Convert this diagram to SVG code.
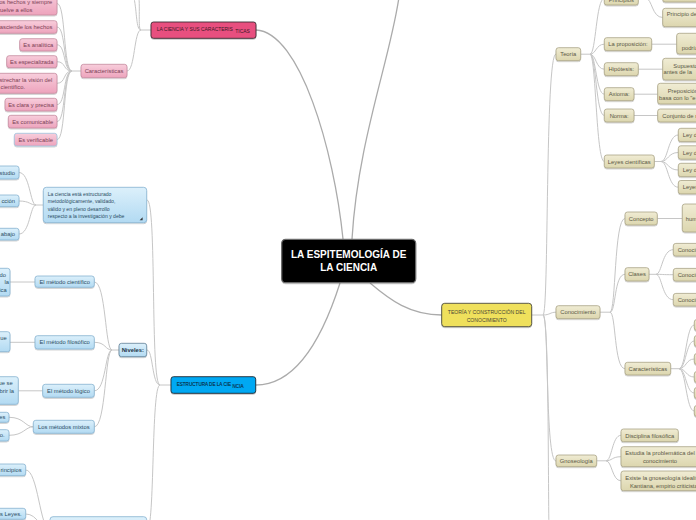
<svg xmlns="http://www.w3.org/2000/svg" width="696" height="520" viewBox="0 0 696 520">
<defs>
<linearGradient id="gP" x1="0" y1="0" x2="0" y2="1"><stop offset="0" stop-color="#f8cedc"/><stop offset="1" stop-color="#eda3bc"/></linearGradient>
<linearGradient id="gB" x1="0" y1="0" x2="0" y2="1"><stop offset="0" stop-color="#dcf0fb"/><stop offset="1" stop-color="#b2daf2"/></linearGradient>
<linearGradient id="gY" x1="0" y1="0" x2="0" y2="1"><stop offset="0" stop-color="#f0ecd4"/><stop offset="1" stop-color="#dcd6ae"/></linearGradient>
<filter id="sh" x="-10%" y="-20%" width="120%" height="160%"><feDropShadow dx="0" dy="1" stdDeviation="0.7" flood-color="#000" flood-opacity="0.22"/></filter>
</defs>
<style>
.c{fill:none;stroke:#c6c6c6;stroke-width:1}
.cm{fill:none;stroke:#ababab;stroke-width:1.3}
rect{filter:url(#sh)}
.np{fill:url(#gP);stroke:#c58b9f;stroke-width:0.8}
.nb{fill:url(#gB);stroke:#86b3d1;stroke-width:0.8}
.ny{fill:url(#gY);stroke:#a9a386;stroke-width:0.8}
text{font-family:"Liberation Sans",Arial,sans-serif;font-size:5.8px}
.tp{fill:#7a3f55}
.tb{fill:#2b4c63}
.ty{fill:#5a5744}
.m{text-anchor:middle}
.e{text-anchor:end}
</style>
<rect width="696" height="520" fill="#ffffff" style="filter:none"/>
<g id="connectors">
<path class="cm" d="M256,30 C300,32 334,150 343,239"/>
<path class="cm" d="M352,239 C358,140 390,60 399,-3"/>
<path class="cm" d="M340,283 C325,330 300,385 256,385"/>
<path class="cm" d="M370,283 C390,300 410,315 441.7,315"/>
<path class="c" d="M151,30 L141,30 M141,30 C134,30 135,71 127,71 M141,30 C136,30 137,12 134,-2 M141,30 C138,30 140,12 139,-2"/>
<path class="c" d="M81,71 L72,71 M72,71 C63,71 66,3.5 57,3.5 M72,71 C63,71 66,27 57,27 M72,71 C63,71 66,44.8 57,44.8 M72,71 C63,71 66,61.7 57,61.7 M72,71 C63,71 66,83.3 57,83.3 M72,71 C63,71 66,104.6 57,104.6 M72,71 C63,71 66,121.6 57,121.6 M72,71 C63,71 66,139.6 57,139.6"/>
<path class="c" d="M171,385 L160,385 M160,385 C150,385 157,200 147,200 M160,385 C152,385 153,350 147,350 M160,385 C151,385 155,530 147,530"/>
<path class="c" d="M43.3,205 L36,205 M36,205 C30,205 30,172.5 19,172.5 M36,205 C30,205 30,201 19,201 M36,205 C30,205 30,234 19,234"/>
<path class="c" d="M119,350 L112,350 M112,350 C105,350 106,282 94.3,282 M112,350 C105,350 106,342.3 94.3,342.3 M112,350 C105,350 106,390.8 94.3,390.8 M112,350 C105,350 106,426.8 94.3,426.8"/>
<path class="c" d="M35,282 L10,282 M35,342.3 L10,342.3 M42.7,390.8 L18.3,390.8 M33.3,426.8 C25,426.8 24,417.3 9,417.3 M33.3,426.8 C25,426.8 24,435.3 9,435.3"/>
<path class="c" d="M50,530 C40,530 38,470 25.7,470 M50,530 C40,530 38,514 25.7,514"/>
<path class="c" d="M531.7,315 L543,315 M543,315 C549,315 545,54 556,54 M543,315 C550,315 550,312.2 556,312.2 M543,315 C549,315 545,461 556,461 M543,315 C549,315 548,480 549,530"/>
<path class="c" d="M580.7,54.2 L590,54.2 M590,54.2 C596,54.2 596,-1.5 604.3,-1.5 M590,54.2 C596,54.2 596,44.2 604.3,44.2 M590,54.2 C596,54.2 596,69.2 604.3,69.2 M590,54.2 C596,54.2 596,94.2 604.3,94.2 M590,54.2 C596,54.2 596,115.5 604.3,115.5 M590,54.2 C596,54.2 596,161.5 604.3,161.5"/>
<path class="c" d="M638.3,-1.5 L646,-1.5 M646,-1.5 C652,-1.5 652,17.5 662.7,17.5 M646,-1.5 C652,-1.5 652,-6 662.7,-6"/>
<path class="c" d="M651.7,44.2 L676.7,44.2 M638.3,69.2 L662.7,69.2 M634,94.2 L657.7,94.2 M634,115.5 L657.7,115.5"/>
<path class="c" d="M654.3,161.5 L661,161.5 M661,161.5 C668,161.5 668,135 678.3,135 M661,161.5 C668,161.5 668,152.5 678.3,152.5 M661,161.5 C668,161.5 668,170 678.3,170 M661,161.5 C668,161.5 668,187.2 678.3,187.2"/>
<path class="c" d="M600,312.2 L610,312.2 M610,312.2 C616,312.2 614,218.5 625,218.5 M610,312.2 C616,312.2 614,274.3 625,274.3 M610,312.2 C616,312.2 614,368.7 625,368.7"/>
<path class="c" d="M657.3,218.5 L682.3,218.5 M649,274.3 L656,274.3 M656,274.3 C662,274.3 662,249.7 673.3,249.7 M656,274.3 C662,274.3 662,274.7 673.3,274.7 M656,274.3 C662,274.3 662,299.7 673.3,299.7"/>
<path class="c" d="M670.7,368.7 L679,368.7 M679,368.7 C686,368.7 686,325 694.3,325 M679,368.7 C686,368.7 686,341 694.3,341 M679,368.7 C686,368.7 686,359 694.3,359 M679,368.7 C686,368.7 686,377 694.3,377 M679,368.7 C686,368.7 686,393 694.3,393 M679,368.7 C686,368.7 686,411 694.3,411"/>
<path class="c" d="M596.7,460.8 L606,460.8 M606,460.8 C612,460.8 612,435.3 621,435.3 M606,460.8 C612,460.8 612,456.7 621,456.7 M606,460.8 C612,460.8 612,480.8 621,480.8"/>
</g>
<g id="central"><rect x="281.7" y="239.3" width="134" height="43.4" rx="4" fill="#000" stroke="#6b6b6b" stroke-width="1.2"/>
<text x="348.7" y="257.8" class="m" style="font-size:10px;font-weight:bold;fill:#fff">LA ESPITEMOLOGÍA DE</text>
<text x="348.7" y="271.2" class="m" style="font-size:10px;font-weight:bold;fill:#fff">LA CIENCIA</text></g>
<g id="ciencia-caracteristicas"><rect x="151" y="22" width="105" height="16.3" rx="2.5" fill="#e8507f" stroke="#3b2b31" stroke-width="0.9"/>
<text x="156.7" y="31.2" style="font-size:4.95px;fill:#3a1a25">LA CIENCIA Y SUS CARACTERIS<tspan x="235.3" dy="1.8">TICAS</tspan></text></g>
<g id="caracteristicas"><rect class="np" x="81" y="64.3" width="46" height="13.4" rx="2.5"/><text class="tp m" x="104" y="73">Características</text></g>
<g id="pc1"><rect class="np" x="-60" y="-8" width="117" height="23" rx="2.5"/><text class="tp e" x="52.3" y="4.4">los hechos y siempre</text><text class="tp e" x="32.3" y="12.1">vuelve a ellos</text></g>
<g id="pc2"><rect class="np" x="-60" y="20.7" width="117" height="12.6" rx="2.5"/><text class="tp e" x="52.3" y="29.1">Trasciende los hechos</text></g>
<g id="pc3"><rect class="np" x="19.7" y="38.7" width="37.3" height="12.3" rx="2.5"/><text class="tp m" x="38.3" y="46.9">Es analítica</text></g>
<g id="pc4"><rect class="np" x="6.7" y="55.7" width="50.3" height="12" rx="2.5"/><text class="tp m" x="31.8" y="63.8">Es especializada</text></g>
<g id="pc5"><rect class="np" x="-60" y="73.3" width="117" height="20" rx="2.5"/><text class="tp e" x="52.3" y="82.2">estrechar la visión del</text><text class="tp e" x="25" y="89">científico.</text></g>
<g id="pc6"><rect class="np" x="5" y="98.3" width="52" height="12.7" rx="2.5"/><text class="tp m" x="31" y="106.7">Es clara y precisa</text></g>
<g id="pc7"><rect class="np" x="8.3" y="115.3" width="48.7" height="12.7" rx="2.5"/><text class="tp m" x="32.7" y="123.7">Es comunicable</text></g>
<g id="pc8"><rect class="np" x="14.3" y="133.3" width="42.7" height="12.7" rx="2.5" style="stroke:#9cc4de"/><text class="tp m" x="35.7" y="141.7">Es verificable</text></g>
<g id="estructura"><rect x="171" y="376.7" width="84.7" height="16.6" rx="2.5" fill="#00a8f3" stroke="#1d2b36" stroke-width="0.9"/>
<text x="176.7" y="386.1" style="font-size:4.6px;fill:#0b2a40;stroke:#0b2a40;stroke-width:0.12">ESTRUCTURA DE LA CIE<tspan x="232.5" dy="1.5">NCIA</tspan></text></g>
<g id="ciencia-esta"><rect class="nb" x="43.3" y="187.3" width="103.4" height="35.4" rx="3"/>
<text class="tb" x="47.7" y="195.8" style="font-size:5.1px">La ciencia está estructurado</text>
<text class="tb" x="47.7" y="203.1" style="font-size:5.1px">metodológicamente, validado,</text>
<text class="tb" x="47.7" y="210.5" style="font-size:5.1px">válido y en pleno desarrollo</text>
<text class="tb" x="47.7" y="218.1" style="font-size:5.1px">respecto a la investigación y debe</text>
<polygon points="139.6,220.2 142.6,217.2 142.6,220.2" fill="#333"/></g>
<g id="bc-a"><rect class="nb" x="-40" y="166" width="59" height="13" rx="2.5"/><text class="tb e" x="15" y="175.4">studio</text></g>
<g id="bc-b"><rect class="nb" x="-40" y="195" width="59" height="11.7" rx="2.5"/><text class="tb e" x="15" y="203">cción</text></g>
<g id="bc-c"><rect class="nb" x="-40" y="228.3" width="59" height="11.7" rx="2.5"/><text class="tb e" x="15" y="236.2">abajo</text></g>
<g id="niveles"><rect class="nb" x="119" y="343.3" width="27.7" height="13.4" rx="2.5" style="stroke:#5f7f95"/><text class="m" x="132.8" y="352" style="font-weight:bold;fill:#1c3448">Niveles:</text></g>
<g id="m1"><rect class="nb" x="35" y="276" width="59.3" height="11.3" rx="2.5"/><text class="tb m" x="64.7" y="283.7">El método científico</text></g>
<g id="m2"><rect class="nb" x="35" y="335.7" width="59.3" height="13.3" rx="2.5"/><text class="tb m" x="64.7" y="344.4">El método filosófico</text></g>
<g id="m3"><rect class="nb" x="42.7" y="384.3" width="51.6" height="13" rx="2.5"/><text class="tb m" x="68.5" y="392.9">El método lógico</text></g>
<g id="m4"><rect class="nb" x="33.3" y="420.3" width="61" height="13" rx="2.5"/><text class="tb m" x="63.8" y="428.9">Los métodos mixtos</text></g>
<g id="mc1"><rect class="nb" x="-40" y="268.3" width="50" height="27.7" rx="2.5"/><text class="tb e" x="6" y="277">do</text><text class="tb e" x="9" y="284.4">la</text><text class="tb e" x="6.7" y="291.8">ica</text></g>
<g id="mc2"><rect class="nb" x="-40" y="331.7" width="50" height="20" rx="2.5"/><text class="tb e" x="6.7" y="340.4">ue</text></g>
<g id="mc3"><rect class="nb" x="-40" y="376.7" width="58.3" height="27.6" rx="2.5"/><text class="tb e" x="12.7" y="385.4">ue se</text><text class="tb e" x="14" y="392.8">brir la</text></g>
<g id="mc4a"><rect class="nb" x="-30" y="412.3" width="39" height="10" rx="2.5"/><text class="tb e" x="5.3" y="419.4">es</text></g>
<g id="mc4b"><rect class="nb" x="-30" y="429.7" width="39" height="11.3" rx="2.5"/><text class="tb e" x="4.7" y="437.4">o.</text></g>
<g id="bottom-node"><rect class="nb" x="50" y="516.7" width="96.7" height="30" rx="3"/></g>
<g id="bc1"><rect class="nb" x="-30" y="464" width="55.7" height="11.7" rx="2.5"/><text class="tb e" x="21.7" y="471.9">rincipios</text></g>
<g id="bc2"><rect class="nb" x="-30" y="508.3" width="55.7" height="11" rx="2.5"/><text class="tb e" x="21.7" y="515.8">us Leyes.</text></g>
<g id="teoria-construccion"><rect x="441.7" y="303.3" width="90" height="23.4" rx="3" fill="#efe05c" stroke="#4a4a42" stroke-width="0.9"/>
<text class="m" x="486.7" y="314.1" style="font-size:5.1px;fill:#4a4535">TEORÍA Y CONSTRUCCIÓN DEL</text>
<text class="m" x="486.7" y="321.8" style="font-size:5.1px;fill:#4a4535">CONOCIMIENTO</text></g>
<g id="teoria"><rect class="ny" x="556" y="47.7" width="24.7" height="13" rx="2.5"/><text class="ty m" x="568.3" y="56.3">Teoría</text></g>
<g id="principios"><rect class="ny" x="604.3" y="-8" width="34" height="13" rx="2.5"/><text class="ty m" x="621.3" y="2">Principios</text></g>
<g id="proposicion"><rect class="ny" x="604.3" y="37.7" width="47.4" height="13" rx="2.5"/><text class="ty m" x="628" y="46.3">La proposición:</text></g>
<g id="hipotesis"><rect class="ny" x="604.3" y="62.7" width="34" height="13" rx="2.5"/><text class="ty m" x="621.3" y="71.3">Hipótesis:</text></g>
<g id="axioma"><rect class="ny" x="604.3" y="87.7" width="29.7" height="13" rx="2.5"/><text class="ty m" x="619.2" y="96.3">Axioma:</text></g>
<g id="norma"><rect class="ny" x="604.3" y="109" width="29.7" height="13" rx="2.5"/><text class="ty m" x="619.2" y="117.6">Norma:</text></g>
<g id="leyes"><rect class="ny" x="604.3" y="155" width="50" height="13" rx="2.5"/><text class="ty m" x="629.3" y="163.6">Leyes científicas</text></g>
<g id="pr1"><rect class="ny" x="662.7" y="-20" width="60" height="22" rx="2.5"/></g>
<g id="pr2"><rect class="ny" x="662.7" y="8.3" width="60" height="18.4" rx="2.5"/><text class="ty" x="666.7" y="16.4">Principio de</text></g>
<g id="prop-c"><rect class="ny" x="676.7" y="33.3" width="50" height="20.7" rx="2.5"/><text class="ty" x="681.7" y="50">podría</text></g>
<g id="hip-c"><rect class="ny" x="662.7" y="58.3" width="60" height="21.7" rx="2.5"/><text class="ty" x="673.3" y="68.4">Supuesto</text><text class="ty" x="663.5" y="74.4">antes de la</text></g>
<g id="ax-c"><rect class="ny" x="657.7" y="83.3" width="60" height="20.7" rx="2.5"/><text class="ty" x="667.7" y="92.8">Preposición</text><text class="ty" x="659" y="99.8">basa con lo "e</text></g>
<g id="norma-c"><rect class="ny" x="657.7" y="109" width="60" height="13" rx="2.5"/><text class="ty" x="662.3" y="118.4">Conjunto de r</text></g>
<g id="ley1"><rect class="ny" x="678.3" y="128.3" width="40" height="13.4" rx="2.5"/><text class="ty" x="682.7" y="137.1">Ley de</text></g>
<g id="ley2"><rect class="ny" x="678.3" y="145.8" width="40" height="13.4" rx="2.5"/><text class="ty" x="682.7" y="154.6">Ley de</text></g>
<g id="ley3"><rect class="ny" x="678.3" y="163.3" width="40" height="13.4" rx="2.5"/><text class="ty" x="682.7" y="172.1">Ley de</text></g>
<g id="ley4"><rect class="ny" x="678.3" y="180.5" width="40" height="13.4" rx="2.5"/><text class="ty" x="682.7" y="189.3">Leyes</text></g>
<g id="conocimiento"><rect class="ny" x="556" y="305.7" width="44" height="13" rx="2.5"/><text class="ty m" x="578" y="314.3">Conocimiento</text></g>
<g id="concepto"><rect class="ny" x="625" y="212" width="32.3" height="13" rx="2.5"/><text class="ty m" x="641.2" y="220.6">Concepto</text></g>
<g id="concepto-c"><rect class="ny" x="682.3" y="204" width="40" height="28" rx="2.5"/><text class="ty" x="685.7" y="221">humano</text></g>
<g id="clases"><rect class="ny" x="625" y="267.7" width="24" height="13.3" rx="2.5"/><text class="ty m" x="637" y="276.4">Clases</text></g>
<g id="cl1"><rect class="ny" x="673.3" y="243.4" width="40" height="12.7" rx="2.5"/><text class="ty" x="677.7" y="251.8">Conocimiento</text></g>
<g id="cl2"><rect class="ny" x="673.3" y="268.4" width="40" height="12.7" rx="2.5"/><text class="ty" x="677.7" y="276.8">Conocimiento</text></g>
<g id="cl3"><rect class="ny" x="673.3" y="293.4" width="40" height="12.7" rx="2.5"/><text class="ty" x="677.7" y="301.8">Conocimiento</text></g>
<g id="caract-con"><rect class="ny" x="625" y="362.3" width="45.7" height="12.7" rx="2.5"/><text class="ty m" x="647.8" y="370.8">Características</text></g>
<g id="cc1"><rect class="ny" x="694.3" y="319.5" width="20" height="11" rx="2.5"/></g>
<g id="cc2"><rect class="ny" x="694.3" y="335.5" width="20" height="11" rx="2.5"/></g>
<g id="cc3"><rect class="ny" x="694.3" y="353.5" width="20" height="11" rx="2.5"/></g>
<g id="cc4"><rect class="ny" x="694.3" y="371.5" width="20" height="11" rx="2.5"/></g>
<g id="cc5"><rect class="ny" x="694.3" y="387.5" width="20" height="11" rx="2.5"/></g>
<g id="cc6"><rect class="ny" x="694.3" y="405.5" width="20" height="11" rx="2.5"/></g>
<g id="gnoseologia"><rect class="ny" x="556" y="455" width="40.7" height="11.7" rx="2.5"/><text class="ty m" x="576.3" y="463">Gnoseología</text></g>
<g id="disciplina"><rect class="ny" x="621" y="429" width="57.3" height="12.7" rx="2.5"/><text class="ty m" x="649.7" y="437.5">Disciplina filosófica</text></g>
<g id="estudia"><rect class="ny" x="621" y="446.7" width="90" height="20" rx="2.5"/><text class="ty m" x="660" y="455.4">Estudia la problemática del</text><text class="ty m" x="660" y="463.4">conocimiento</text></g>
<g id="existe"><rect class="ny" x="621" y="471" width="90" height="19.7" rx="2.5"/><text class="ty" x="625.3" y="480.1">Existe la gnoseología idealista,</text><text class="ty" x="630" y="487.8">Kantiana, empirio criticista</text></g>
</svg>
